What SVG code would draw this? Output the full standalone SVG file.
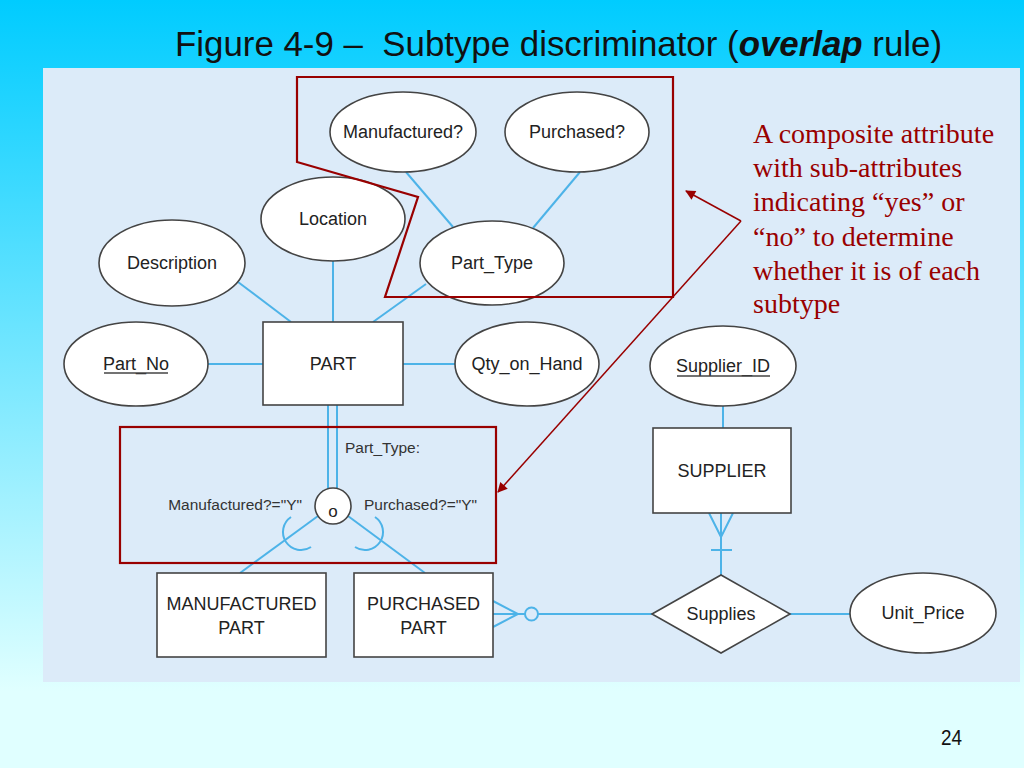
<svg xmlns="http://www.w3.org/2000/svg" width="1024" height="768" viewBox="0 0 1024 768">
<defs>
<linearGradient id="bg" x1="0" y1="0" x2="0" y2="1">
<stop offset="0" stop-color="#00CCFF"/>
<stop offset="0.9" stop-color="#E0FFFF"/>
<stop offset="1" stop-color="#E0FFFF"/>
</linearGradient>
<marker id="ah" viewBox="0 0 10 10" refX="9" refY="5" markerWidth="14" markerHeight="10" markerUnits="userSpaceOnUse" orient="auto">
<path d="M0,0 L10,5 L0,10 z" fill="#990000"/>
</marker>
<style>
.ent{fill:#fff;stroke:#444;stroke-width:1.6}
.lbl{font-family:"Liberation Sans",Arial,sans-serif;font-size:18px;fill:#222;text-anchor:middle}
.sm{font-family:"Liberation Sans",Arial,sans-serif;font-size:15.5px;fill:#333}
.cn{stroke:#4DB3E8;stroke-width:2;fill:none}
.red{stroke:#990000;stroke-width:2.2;fill:none}
.note{font-family:"Liberation Serif","Times New Roman",serif;font-size:28px;fill:#990000}
</style>
</defs>
<rect width="1024" height="768" fill="url(#bg)"/>
<rect x="43" y="68" width="977" height="614" fill="#DCEBF9"/>
<text x="175" y="56" font-family="Liberation Sans,Arial,sans-serif" font-size="35" fill="#111" textLength="767" lengthAdjust="spacingAndGlyphs" xml:space="preserve">Figure 4-9 –  Subtype discriminator (<tspan font-weight="bold" font-style="italic">overlap</tspan> rule)</text>

<g id="connectors">
<line class="cn" x1="406" y1="172" x2="453" y2="227"/>
<line class="cn" x1="580" y1="172" x2="533" y2="228"/>
<line class="cn" x1="333" y1="260" x2="333" y2="322"/>
<line class="cn" x1="238" y1="282" x2="291" y2="322"/>
<line class="cn" x1="426" y1="284" x2="373" y2="322"/>
<line class="cn" x1="208" y1="364" x2="263" y2="364"/>
<line class="cn" x1="403" y1="364" x2="455" y2="364"/>
<line class="cn" x1="328" y1="405" x2="328" y2="490"/>
<line class="cn" x1="337" y1="405" x2="337" y2="490"/>
<line class="cn" x1="318" y1="516" x2="240" y2="573"/>
<line class="cn" x1="348" y1="516" x2="425" y2="573"/>
<path class="cn" d="M291,517 A18,18 0 0 0 311,547"/>
<path class="cn" d="M375,517 A18,18 0 0 1 355,547"/>
<line class="cn" x1="723" y1="406" x2="723" y2="428"/>
<line class="cn" x1="721" y1="513" x2="721" y2="575"/>
<polyline class="cn" points="709,513 721,537 733,513"/>
<line class="cn" x1="711" y1="550" x2="732" y2="550"/>
<line class="cn" x1="493" y1="614" x2="525" y2="614"/>
<polyline class="cn" points="493,601 518,614 493,627"/>
<circle class="cn" cx="531.5" cy="614" r="6.5"/>
<line class="cn" x1="538" y1="614" x2="652" y2="614"/>
<line class="cn" x1="790" y1="614" x2="851" y2="614"/>
</g>

<g id="manufactured_q"><ellipse class="ent" cx="403" cy="132" rx="73" ry="40"/><text class="lbl" x="403" y="138">Manufactured?</text></g>
<g id="purchased_q"><ellipse class="ent" cx="577" cy="132" rx="72" ry="40"/><text class="lbl" x="577" y="138">Purchased?</text></g>
<g id="location"><ellipse class="ent" cx="333" cy="219" rx="72" ry="42"/><text class="lbl" x="333" y="225">Location</text></g>
<g id="description"><ellipse class="ent" cx="172" cy="263" rx="73" ry="43"/><text class="lbl" x="172" y="269">Description</text></g>
<g id="part_type"><ellipse class="ent" cx="492" cy="263" rx="72" ry="42"/><text class="lbl" x="492" y="269">Part_Type</text></g>
<g id="part_no"><ellipse class="ent" cx="136" cy="364" rx="72" ry="42"/><text class="lbl" x="136" y="370">Part_No</text><line x1="104" y1="373" x2="168" y2="373" stroke="#444" stroke-width="1.3"/></g>
<g id="part"><rect class="ent" x="263" y="322" width="140" height="83"/><text class="lbl" x="333" y="370">PART</text></g>
<g id="qty_on_hand"><ellipse class="ent" cx="527" cy="364" rx="72" ry="42"/><text class="lbl" x="527" y="370">Qty_on_Hand</text></g>
<g id="supplier_id"><ellipse class="ent" cx="723" cy="366" rx="73" ry="40"/><text class="lbl" x="723" y="372">Supplier_ID</text><line x1="677" y1="376" x2="770" y2="376" stroke="#444" stroke-width="1.3"/></g>
<g id="supplier"><rect class="ent" x="653" y="428" width="138" height="85"/><text class="lbl" x="722" y="477">SUPPLIER</text></g>
<g id="supplies"><polygon class="ent" points="652,614 721,575 790,614 721,653"/><text class="lbl" x="721" y="620">Supplies</text></g>
<g id="unit_price"><ellipse class="ent" cx="923" cy="613" rx="73" ry="40"/><text class="lbl" x="923" y="619">Unit_Price</text></g>
<g id="manufactured_part"><rect class="ent" x="157" y="573" width="169" height="84"/><text class="lbl" x="241.5" y="610">MANUFACTURED</text><text class="lbl" x="241.5" y="634">PART</text></g>
<g id="purchased_part"><rect class="ent" x="354" y="573" width="139" height="84"/><text class="lbl" x="423.5" y="610">PURCHASED</text><text class="lbl" x="423.5" y="634">PART</text></g>

<g id="discriminator">
<circle class="ent" cx="333" cy="506" r="18"/>
<text class="lbl" x="333" y="517" style="font-size:17px">o</text>
<text class="sm" x="345" y="453">Part_Type:</text>
<text class="sm" x="302" y="510" text-anchor="end">Manufactured?="Y"</text>
<text class="sm" x="364" y="510">Purchased?="Y"</text>
</g>

<g id="annotation">
<polygon class="red" points="297,77 673,77 673,297 385,297 418,197 297,162"/>
<rect class="red" x="120" y="427" width="376" height="136"/>
<line x1="741" y1="221" x2="686" y2="191" stroke="#990000" stroke-width="1.5" marker-end="url(#ah)"/>
<line x1="741" y1="221" x2="498" y2="492" stroke="#990000" stroke-width="1.5" marker-end="url(#ah)"/>
<text class="note"><tspan x="753" y="143">A composite attribute</tspan><tspan x="753" y="177">with sub-attributes</tspan><tspan x="753" y="211">indicating “yes” or</tspan><tspan x="753" y="246">“no” to determine</tspan><tspan x="753" y="280">whether it is of each</tspan><tspan x="753" y="313">subtype</tspan></text>
</g>
<text x="941" y="745" font-family="Liberation Sans,Arial,sans-serif" font-size="22" fill="#111" textLength="21" lengthAdjust="spacingAndGlyphs">24</text>
</svg>
